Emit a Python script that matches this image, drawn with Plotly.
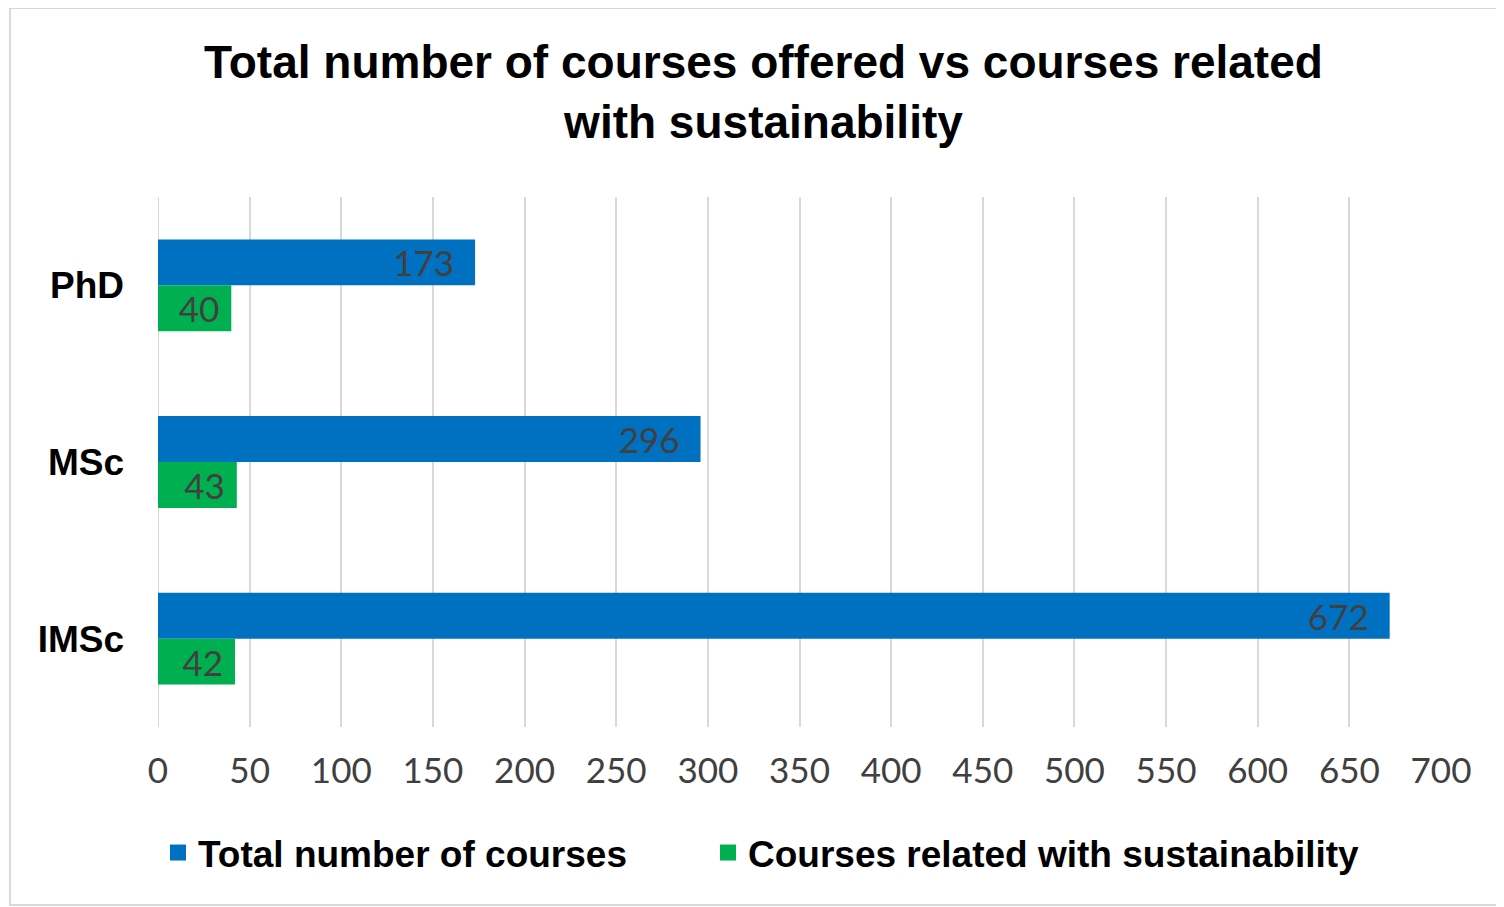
import plotly.graph_objects as go

categories = ["PhD", "MSc", "IMSc"]
total_courses = [173, 296, 672]
sustain_courses = [40, 43, 42]
series_names = ["Total number of courses", "Courses related with sustainability"]
colors = ["#0070C0", "#00B050"]
label_pads = ["\u00a0\u00a0", "\u00a0"]

fig = go.Figure()
for name, vals, col, pad in zip(series_names, [total_courses, sustain_courses], colors, label_pads):
    fig.add_trace(go.Bar(
        y=categories, x=vals, name=name, orientation="h",
        marker=dict(color=col, line=dict(width=0)),
        texttemplate="%{x}" + pad, textposition="inside", insidetextanchor="end",
        textfont=dict(family="Lato", size=35, color="#404040"),
        constraintext="none", cliponaxis=False, showlegend=False,
    ))
# legend entries with larger square symbols, each in its own legend
for i, (name, col) in enumerate(zip(series_names, colors)):
    fig.add_trace(go.Scatter(
        x=[None], y=[None], mode="markers", name=name,
        marker=dict(symbol="square", size=18, color=col),
        legend="legend" if i == 0 else "legend2",
    ))

W, H = 1496, 899
leg_font = dict(family="Liberation Sans", size=37, color="black", weight="bold")
fig.update_layout(
    width=W, height=H,
    paper_bgcolor="white", plot_bgcolor="white",
    margin=dict(l=150, r=63, t=189, b=180),
    barmode="group", bargap=0.48, bargroupgap=0,
    title=dict(
        text="Total number of courses offered vs courses related<br>with sustainability",
        x=0.505, xanchor="center", y=0.9216, yanchor="middle",
        font=dict(family="Liberation Sans", size=46, color="black", weight="bold"),
    ),
    legend=dict(
        orientation="h", x=0.0, xanchor="left", y=-0.2377, yanchor="middle",
        font=leg_font, itemwidth=30,
    ),
    legend2=dict(
        orientation="h", x=(722 - 172) / 1283, xanchor="left", y=-0.2377, yanchor="middle",
        font=leg_font, itemwidth=30,
    ),
    font=dict(family="Lato", color="#404040"),
)
fig.update_xaxes(
    range=[0, 700], dtick=50, tick0=0,
    showgrid=True, gridcolor="#D9D9D9", gridwidth=2,
    zeroline=False, showline=False,
    tickfont=dict(family="Lato", size=35, color="#404040"),
    ticklabelstandoff=20,
)
fig.update_yaxes(
    autorange="reversed", showgrid=False, showline=False, zeroline=False,
    tickfont=dict(family="Liberation Sans", size=37, color="black", weight="bold"),
    ticklabelstandoff=33,
)
# light outer border of chart frame
fig.add_shape(type="rect", xref="paper", yref="paper",
              x0=(10 - 158) / 1283, x1=(1499 - 158) / 1283,
              y0=(727 - 905) / 530, y1=(727 - 8) / 530,
              line=dict(color="#D9D9D9", width=2), layer="below")
# gridline at zero
fig.add_shape(type="line", xref="x", yref="paper", x0=0, x1=0, y0=0, y1=1,
              line=dict(color="#D9D9D9", width=2), layer="below")

fig.write_html("out.html")
